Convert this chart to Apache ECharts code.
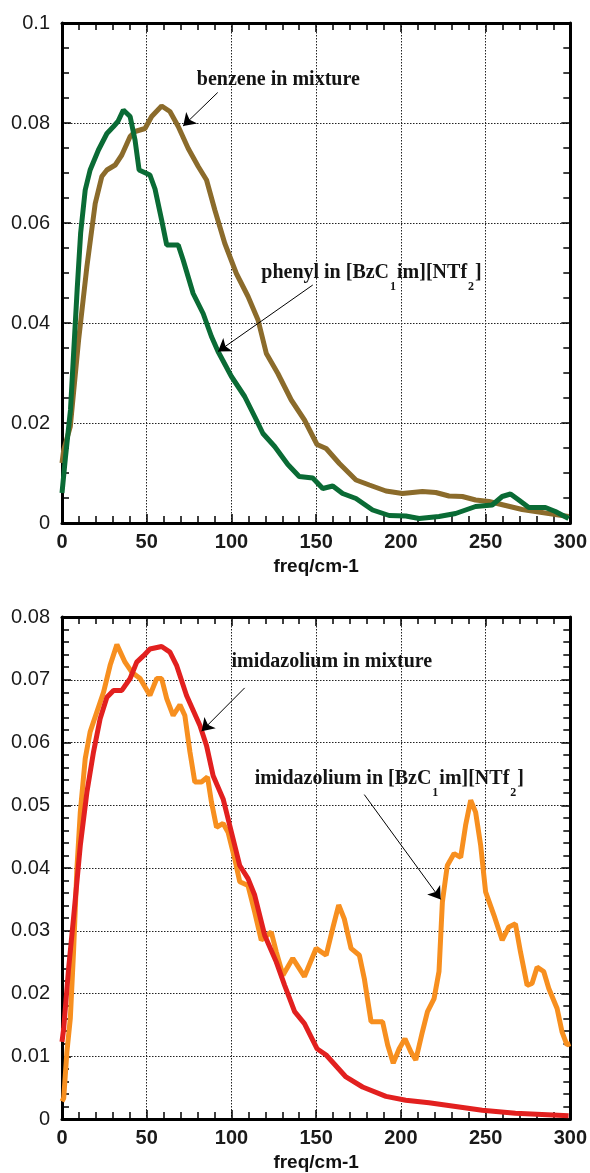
<!DOCTYPE html>
<html>
<head>
<meta charset="utf-8">
<script src="https://cdn.jsdelivr.net/npm/echarts@6/dist/echarts.min.js"></script>
<style>
  html, body { margin: 0; padding: 0; background: #fff; }
  #chart { width: 590px; height: 1173px; }
</style>
</head>
<body>
<div id="chart"></div>
<script>
// axis ranges: [min, max, interval]
var freqRange = [0, 300, 50];
var topRange = [0, 0.1, 0.02];
var bottomRange = [0, 0.08, 0.01];
var freqName = 'freq/cm-1';

// top panel: [freq, value]
var benzeneMix = [[0,0.012],[1,0.0146],[4.9,0.0193],[9.8,0.0366],[14.7,0.0513],[19.6,0.0639],[23.5,0.0693],[26.5,0.0706],[31.4,0.0716],[35.3,0.0736],
  [40.2,0.0773],[43.1,0.0783],[49,0.0789],[52.9,0.0813],[58.8,0.0834],[63.7,0.0823],[68.6,0.0793],[74.5,0.0749],[80.4,0.0713],[85.3,0.0686],
  [90.2,0.0626],[96.1,0.0559],[102.9,0.0499],[109.8,0.0453],[115.7,0.0406],[120.6,0.0339],[127.4,0.0299],[135.3,0.0246],[143.1,0.0206],[150.5,0.0157],
  [155.9,0.0149],[163.7,0.0119],[173.5,0.0086],[181.4,0.0076],[191.2,0.0064],[200.9,0.0059],[212.7,0.0063],[220.6,0.0061],[228.4,0.0054],[236.3,0.0053],
  [244.1,0.0046],[252,0.0043],[261.8,0.0035],[271.6,0.0027],[283.3,0.0021],[299,0.0013]];

var phenylIL = [[0,0.006],[2,0.013],[5,0.0226],[9,0.047],[11,0.058],[13.7,0.0666],[16.6,0.0706],[21.5,0.0746],[26.5,0.0779],[30.4,0.0793],
  [33,0.0803],[36.2,0.0826],[40.2,0.0813],[43.1,0.0766],[45.5,0.0706],[51.9,0.0696],[54.9,0.0668],[58.8,0.0606],[61.8,0.0556],[68.6,0.0556],
  [71.5,0.0526],[77.4,0.0459],[83.3,0.0419],[88.2,0.0373],[92.1,0.0343],[100,0.0293],[107.8,0.0253],[113.7,0.0213],[118.6,0.0179],[125.5,0.0153],
  [133.3,0.0117],[140,0.0093],[148,0.009],[153.9,0.0069],[159.8,0.0074],[165.6,0.0059],[173.5,0.0049],[183.3,0.0026],[193.1,0.0015],[202.9,0.0014],
  [210.8,0.0009],[222.5,0.0013],[232.3,0.0019],[244.1,0.0033],[253.9,0.0036],[259.8,0.0053],[264.7,0.0058],[269.6,0.0046],[275.5,0.0031],[285.3,0.0031],
  [291.2,0.0023],[299,0.0009]];

// bottom panel: [freq, value]
var imidMix = [[0,0.0123],[1,0.0144],[3.9,0.024],[6.8,0.032],[10.8,0.0436],[14.7,0.0521],[18.6,0.0585],[22.5,0.0638],[26.5,0.0672],[30.4,0.0683],
  [35.3,0.0683],[40.2,0.0702],[44.1,0.0728],[48,0.0738],[51.9,0.0749],[58.8,0.0753],[63.7,0.0744],[67.6,0.0723],[73.5,0.0675],[81.4,0.0627],
  [85.3,0.0595],[89.2,0.0547],[95.1,0.051],[100,0.0457],[104.9,0.0404],[109.8,0.0383],[113.7,0.0357],[119.6,0.0293],[126.5,0.025],[131.4,0.0213],
  [137.3,0.0171],[143.1,0.0152],[150.5,0.0112],[155.9,0.0102],[167.6,0.0067],[177.4,0.0051],[191.2,0.0036],[202.9,0.003],[216.6,0.0026],[232.3,0.002],
  [248,0.0014],[267.6,0.0009],[283.3,0.0007],[299,0.0005]];

var imidIL = [[0,0.0028],[1,0.0033],[2.9,0.0107],[4.9,0.016],[6.8,0.0266],[8.8,0.0399],[10.8,0.0489],[13.7,0.0574],[16.6,0.0617],[20.6,0.0649],
  [24.5,0.068],[28.4,0.0723],[32.4,0.0756],[37.2,0.0728],[41.2,0.0712],[46.1,0.0702],[51.9,0.0675],[55.9,0.0702],[58.8,0.0702],[61.8,0.067],
  [65.6,0.0643],[69.6,0.066],[72.5,0.0643],[75.5,0.0585],[78.4,0.0537],[82.3,0.0537],[85.9,0.0545],[88.2,0.0505],[91.2,0.0465],[95.1,0.0471],
  [98,0.0457],[101.9,0.0415],[104.9,0.0378],[109.8,0.0372],[113.7,0.033],[117.6,0.0285],[123.5,0.0298],[126.5,0.0266],[130.4,0.0229],[136.2,0.0256],
  [143.1,0.0227],[150,0.0272],[155.9,0.0261],[159.8,0.0304],[163.3,0.0341],[166.6,0.0319],[170.6,0.0272],[175.5,0.0261],[178.4,0.0224],[182.4,0.0155],
  [189.2,0.0155],[192.2,0.0118],[195.5,0.0089],[199,0.0112],[202.4,0.0128],[205.9,0.0107],[208.8,0.0094],[212.7,0.0139],[215.7,0.0171],[219.6,0.0192],
  [222.5,0.0235],[224.5,0.0346],[227.4,0.0404],[231.4,0.0423],[235.3,0.0417],[238.2,0.0468],[241.2,0.0508],[244.1,0.0489],[247.1,0.0436],[250,0.0362],
  [254.9,0.0325],[259.8,0.0285],[263.7,0.0306],[267.6,0.0311],[270.6,0.0266],[274.5,0.0213],[277.4,0.0216],[280.4,0.0242],[284.3,0.0235],[287.3,0.0208],
  [292.2,0.0176],[295.1,0.0139],[298,0.0118],[300,0.012]];

// annotations, in data coordinates: text anchor (left, middle), arrow from -> to
var annotations = [
  {grid: 0, text: '{n|benzene in mixture}', at: [79.6, 0.0884], from: [91.9, 0.0861], to: [71.5, 0.0794]},
  {grid: 0, text: '{n|phenyl in [BzC}{s|1}{n|im][NTf}{s|2}{n|]}', at: [117.6, 0.0498], from: [148, 0.0476], to: [92.1, 0.0343]},
  {grid: 1, text: '{n|imidazolium in mixture}', at: [100, 0.0727], from: [107.8, 0.0687], to: [82.4, 0.0618]},
  {grid: 1, text: '{n|imidazolium in [BzC}{s|1}{n|im][NTf}{s|2}{n|]}', at: [113.7, 0.054], from: [178.4, 0.0517], to: [223.5, 0.035]}
];

var SANS = '"Liberation Sans", Arial, Helvetica, sans-serif';
var SERIF = '"Liberation Serif", "Times New Roman", serif';

function makeAxis(gridIndex, position, range, minorSplit, main, isX) {
  var ax = {
    type: 'value',
    gridIndex: gridIndex,
    position: position,
    min: range[0], max: range[1], interval: range[2],
    axisLine: {show: true, onZero: false, lineStyle: {color: '#000', width: 3}},
    axisTick: {show: true, inside: true, length: 9, lineStyle: {color: '#000', width: 1.5}},
    minorTick: {show: true, splitNumber: minorSplit, length: 7, lineStyle: {color: '#000', width: 1.5}},
    splitLine: {show: main, lineStyle: {color: '#222', width: 1, type: [1.5, 1.5]}},
    axisLabel: {show: main, color: '#1a1a1a', fontFamily: SANS, fontSize: 20}
  };
  if (isX) {
    ax.axisLabel.fontWeight = 'bold';
    ax.axisLabel.margin = 9;
    if (main) {
      ax.name = freqName;
      ax.nameLocation = 'middle';
      ax.nameGap = 34;
      ax.nameTextStyle = {fontFamily: SANS, fontSize: 19, fontWeight: 'bold', color: '#111', verticalAlign: 'top'};
    }
  } else {
    ax.axisLabel.margin = 12;
    ax.axisLabel.formatter = function (v) { return String(+v.toFixed(3)); };
  }
  return ax;
}

function arrowLine(a) {
  return {
    silent: true,
    animation: false,
    symbol: ['none', 'arrow'],
    symbolSize: 12,
    label: {show: false},
    emphasis: {disabled: true},
    lineStyle: {color: '#000', width: 1, type: 'solid'},
    data: [[{coord: a.from}, {coord: a.to}]]
  };
}

function lineSeries(data, color, xi, yi, ann) {
  return {
    type: 'line',
    xAxisIndex: xi, yAxisIndex: yi,
    data: data,
    showSymbol: false,
    symbol: 'none',
    lineStyle: {color: color, width: 5},
    itemStyle: {color: color},
    markLine: ann ? arrowLine(ann) : undefined
  };
}

var chart = echarts.init(document.getElementById('chart'));
var option = {
  animation: false,
  backgroundColor: '#fff',
  grid: [
    {left: 62, width: 510, top: 23, height: 500},
    {left: 62, width: 510, top: 617, height: 503.5}
  ],
  xAxis: [
    makeAxis(0, 'bottom', freqRange, 5, true, true),
    makeAxis(0, 'top', freqRange, 5, false, true),
    makeAxis(1, 'bottom', freqRange, 5, true, true),
    makeAxis(1, 'top', freqRange, 5, false, true)
  ],
  yAxis: [
    makeAxis(0, 'left', topRange, 4, true, false),
    makeAxis(0, 'right', topRange, 4, false, false),
    makeAxis(1, 'left', bottomRange, 5, true, false),
    makeAxis(1, 'right', bottomRange, 5, false, false)
  ],
  series: [
    lineSeries(benzeneMix, '#8b6b2b', 0, 0, annotations[0]),
    lineSeries(phenylIL, '#0a6b35', 0, 0, annotations[1]),
    lineSeries(imidIL, '#f78f1f', 2, 2, annotations[3]),
    lineSeries(imidMix, '#e2201f', 2, 2, annotations[2])
  ]
};
chart.setOption(option);

// annotation texts placed through the grids' own scales
var texts = annotations.map(function (a) {
  var p = chart.convertToPixel({gridIndex: a.grid}, a.at);
  return {
    type: 'text',
    silent: true,
    z: 100,
    style: {
      x: p[0], y: p[1] - 11,
      text: a.text,
      textAlign: 'left', align: 'left',
      textVerticalAlign: 'top', verticalAlign: 'top',
      rich: {
        n: {fontSize: 20, fontWeight: 'bold', fontFamily: SERIF, lineHeight: 22, verticalAlign: 'top', fill: '#141414'},
        s: {fontSize: 12, fontWeight: 'bold', fontFamily: SERIF, lineHeight: 48, padding: [0, 1], fill: '#141414'}
      }
    }
  };
});
chart.setOption({graphic: texts});
</script>
</body>
</html>
